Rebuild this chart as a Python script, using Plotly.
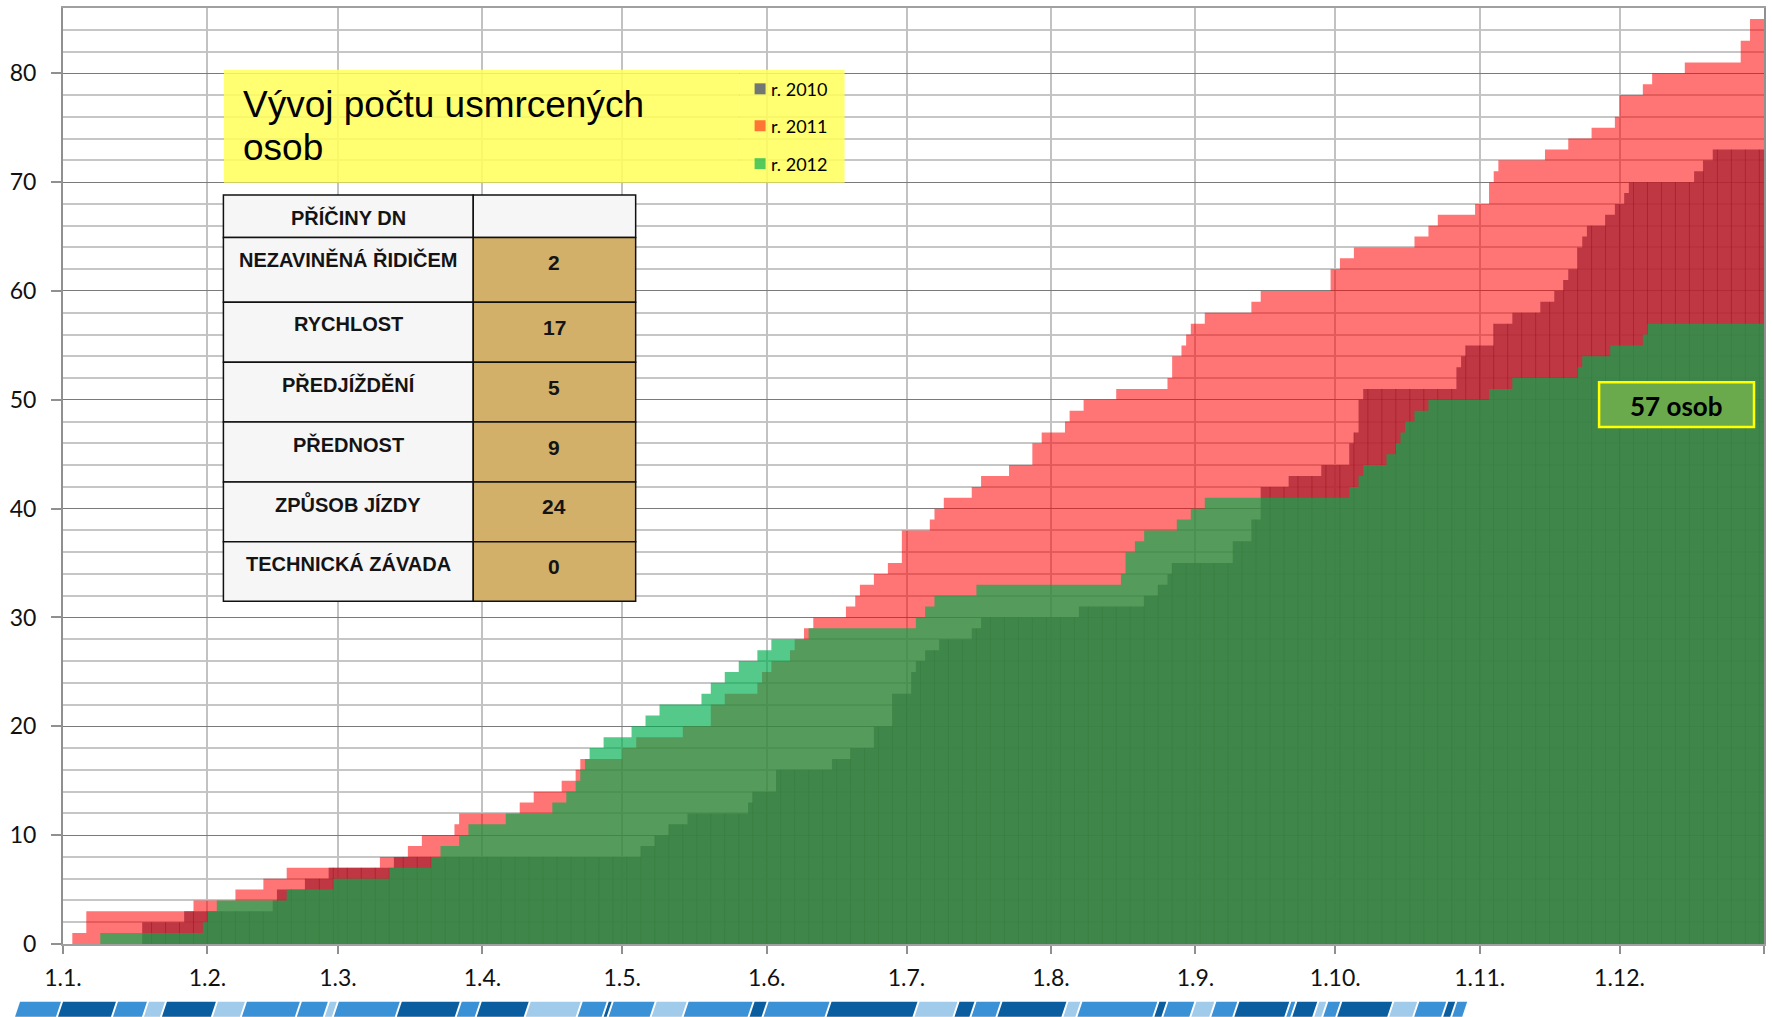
import plotly.graph_objects as go

# ---------------- data ----------------
month_ticks = [0, 31, 59, 90, 120, 151, 181, 212, 243, 273, 304, 334]
month_labels = ["1.1.", "1.2.", "1.3.", "1.4.", "1.5.", "1.6.", "1.7.",
                "1.8.", "1.9.", "1.10.", "1.11.", "1.12."]
year_end = 365

# cumulative number of killed persons: day of year where the value changes, and the new value
days_2010 = [0, 17, 26, 45, 46, 52, 57, 71, 124, 127, 130, 134, 147, 148, 153, 165, 169, 174,
             178, 182, 183, 185, 188, 195, 197, 218, 232, 235, 237, 238, 251, 255, 257, 263,
             270, 276, 277, 278, 279, 299, 300, 301, 307, 311, 317, 320, 322, 323, 325, 326,
             327, 331, 333, 335, 336, 350, 352, 354]
vals_2010 = [0, 2, 3, 4, 5, 6, 7, 8, 9, 10, 11, 12, 13, 14, 16, 17, 18, 20,
             23, 25, 26, 27, 28, 29, 30, 31, 32, 33, 34, 35, 37, 39, 42, 43,
             44, 46, 47, 50, 51, 53, 54, 55, 57, 58, 59, 60, 61, 62, 64, 65,
             66, 67, 68, 69, 70, 71, 72, 73]

days_2011 = [0, 2, 5, 28, 37, 43, 48, 68, 74, 77, 84, 85, 98, 101, 107, 110, 111, 120, 123, 133,
             139, 142, 149, 150, 152, 156, 157, 159, 161, 168, 170, 171, 174, 177, 180, 186, 187,
             189, 195, 197, 203, 208, 210, 215, 216, 219, 226, 237, 238, 240, 241, 242, 245, 255,
             257, 272, 274, 277, 290, 293, 295, 303, 306, 307, 308, 318, 323, 328, 333, 334, 339,
             341, 348, 360, 362]
vals_2011 = [0, 1, 3, 4, 5, 6, 7, 8, 9, 10, 11, 12, 13, 14, 15, 16, 17, 18, 19, 20,
             22, 23, 24, 25, 26, 27, 28, 29, 30, 31, 32, 33, 34, 35, 38, 39, 40,
             41, 42, 43, 44, 46, 47, 48, 49, 50, 51, 52, 54, 55, 56, 57, 58, 59,
             60, 62, 63, 64, 65, 66, 67, 68, 70, 71, 72, 73, 74, 75, 76, 78, 79,
             80, 81, 83, 85]

days_2012 = [0, 8, 30, 31, 33, 48, 58, 70, 79, 81, 85, 87, 95, 105, 108, 110, 111, 112, 113, 116,
             122, 125, 128, 137, 139, 142, 145, 149, 152, 160, 183, 185, 187, 196, 227, 228, 230,
             232, 239, 242, 245, 276, 278, 279, 284, 286, 287, 288, 290, 293, 306, 311, 325, 326,
             332, 339, 340]
vals_2012 = [0, 1, 2, 3, 4, 5, 6, 7, 8, 9, 10, 11, 12, 13, 14, 15, 16, 17, 18, 19,
             20, 21, 22, 23, 24, 25, 26, 27, 28, 29, 30, 31, 32, 33, 34, 36, 37,
             38, 39, 40, 41, 42, 43, 44, 45, 46, 47, 48, 49, 50, 51, 52, 53, 54,
             55, 56, 57]

series_names = ["r. 2010", "r. 2011", "r. 2012"]

table_header = "PŘÍČINY DN"
causes = ["NEZAVINĚNÁ ŘIDIČEM", "RYCHLOST", "PŘEDJÍŽDĚNÍ", "PŘEDNOST", "ZPŮSOB JÍZDY", "TECHNICKÁ ZÁVADA"]
cause_counts = [2, 17, 5, 9, 24, 0]

title_lines = ["Vývoj počtu usmrcených", "osob"]
total_label = f"{vals_2012[-1]} osob"

# ---------------- styling ----------------
C2010 = "rgba(78,86,118,0.80)"
C2011 = "rgba(255,0,0,0.54)"
C2012 = "rgba(0,174,78,0.667)"
TEXTURE = "rgba(0,0,0,0.33)"

W, H = 1772, 1017
ML, MR, MT, MB = 63, 7, 6, 73
PW = W - ML - MR
PH = H - MT - MB
BASE = H - MB


def px(x):
    return (x - ML) / PW


def py(y):
    return (BASE - y) / PH


def stepped(days, vals):
    return days + [year_end], vals + [vals[-1]]


def value_on(days, vals, d):
    v = 0
    for dd, vv in zip(days, vals):
        if dd <= d:
            v = vv
        else:
            break
    return v


fig = go.Figure()

x, y = stepped(days_2010, vals_2010)
fig.add_trace(go.Scatter(x=x, y=y, mode="lines", line=dict(width=0, shape="hv"),
                         fill="tozeroy", fillcolor=C2010, name=series_names[0],
                         hoverinfo="skip", showlegend=False))

# faint column texture inside the 2010 area
tx, ty = [], []
for d in range(1, year_end, 3):
    v = value_on(days_2010, vals_2010, d)
    if v > 0:
        tx += [d, d, None]
        ty += [0, v, None]
fig.add_trace(go.Scatter(x=tx, y=ty, mode="lines", line=dict(width=1, color=TEXTURE),
                         hoverinfo="skip", showlegend=False))

x, y = stepped(days_2011, vals_2011)
fig.add_trace(go.Scatter(x=x, y=y, mode="lines", line=dict(width=0, shape="hv"),
                         fill="tozeroy", fillcolor=C2011, name=series_names[1],
                         hoverinfo="skip", showlegend=False))

x, y = stepped(days_2012, vals_2012)
fig.add_trace(go.Scatter(x=x, y=y, mode="lines", line=dict(width=0, shape="hv"),
                         fill="tozeroy", fillcolor=C2012, name=series_names[2],
                         hoverinfo="skip", showlegend=False))

shapes = []
annotations = []

# title box + legend box
shapes.append(dict(type="rect", xref="paper", yref="paper", x0=px(224), x1=px(740), y0=py(181), y1=py(68),
                   fillcolor="rgba(255,255,90,0.86)", line=dict(width=0), layer="above"))
shapes.append(dict(type="rect", xref="paper", yref="paper", x0=px(740), x1=px(845), y0=py(181), y1=py(68),
                   fillcolor="rgba(255,255,90,0.86)", line=dict(width=0), layer="above"))
annotations.append(dict(xref="paper", yref="paper", x=px(241), y=py(103), xanchor="left", yanchor="middle",
                        text=title_lines[0], showarrow=False,
                        font=dict(family="Liberation Sans, Arial", size=37, color="#000")))
annotations.append(dict(xref="paper", yref="paper", x=px(241), y=py(146), xanchor="left", yanchor="middle",
                        text=title_lines[1], showarrow=False,
                        font=dict(family="Liberation Sans, Arial", size=37, color="#000")))

legend_y = [87, 124, 162]
for name, col, ly in zip(series_names, [C2010, C2011, C2012], legend_y):
    shapes.append(dict(type="rect", xref="paper", yref="paper", x0=px(755), x1=px(766),
                       y0=py(ly + 5.5), y1=py(ly - 5.5), fillcolor=col, line=dict(width=0), layer="above"))
    annotations.append(dict(xref="paper", yref="paper", x=px(769), y=py(ly), xanchor="left", yanchor="middle",
                            text=name, showarrow=False, font=dict(family="Lato", size=18, color="#000")))

# table
tx0, tx1, tx2 = 223.5, 473.5, 636
row_edges = [193.5, 236, 301, 361, 421, 481, 541, 600.5]
LIGHT = "#F6F6F6"
TAN = "#D2B06A"
labels = [table_header] + causes
values = [""] + [str(c) for c in cause_counts]
for i in range(len(labels)):
    r0, r1 = row_edges[i], row_edges[i + 1]
    shapes.append(dict(type="rect", xref="paper", yref="paper", x0=px(tx0), x1=px(tx1), y0=py(r1), y1=py(r0),
                       fillcolor=LIGHT, line=dict(color="#111", width=1.5), layer="above"))
    shapes.append(dict(type="rect", xref="paper", yref="paper", x0=px(tx1), x1=px(tx2), y0=py(r1), y1=py(r0),
                       fillcolor=LIGHT if i == 0 else TAN, line=dict(color="#111", width=1.5), layer="above"))
    annotations.append(dict(xref="paper", yref="paper", x=px((tx0 + tx1) / 2), y=py(r0 + 22),
                            xanchor="center", yanchor="middle", text=f"<b>{labels[i]}</b>", showarrow=False,
                            font=dict(family="Liberation Sans, Arial", size=20, color="#141414")))
    if values[i]:
        annotations.append(dict(xref="paper", yref="paper", x=px((tx1 + tx2) / 2), y=py(r0 + 25),
                                xanchor="center", yanchor="middle", text=f"<b>{values[i]}</b>", showarrow=False,
                                font=dict(family="Liberation Sans, Arial", size=21, color="#141414")))

# total label
shapes.append(dict(type="rect", xref="paper", yref="paper", x0=px(1600), x1=px(1755), y0=py(426), y1=py(381),
                   fillcolor="#6AAA4C", line=dict(color="#FFFF00", width=2.5), layer="above"))
annotations.append(dict(xref="paper", yref="paper", x=px(1677.5), y=py(405), xanchor="center", yanchor="middle",
                        text=f"<b>{total_label}</b>", showarrow=False,
                        font=dict(family="Lato", size=26, color="#000")))

# decorative stripe at the bottom
stripe_cols = {"d": "#0A5E9F", "m": "#3B91D5", "l": "#A0CBEB"}
stripe = [(14, 57, "m"), (57, 112, "d"), (112, 143, "m"), (143, 161, "l"), (161, 212, "d"), (212, 241, "l"),
          (241, 296, "m"), (296, 324, "m"), (324, 333, "l"), (333, 396, "m"), (396, 456, "d"), (456, 476, "m"),
          (476, 525, "d"), (525, 577, "l"), (577, 603, "m"), (603, 608, "d"), (608, 651, "m"), (651, 683, "l"),
          (683, 749, "m"), (749, 763, "d"), (763, 826, "m"), (826, 914, "d"), (914, 954, "l"), (954, 971, "d"),
          (971, 997, "m"), (997, 1063, "d"), (1063, 1077, "l"), (1077, 1154, "m"), (1154, 1163, "d"),
          (1163, 1191, "m"), (1191, 1211, "l"), (1211, 1234, "m"), (1234, 1286, "d"), (1286, 1292, "m"),
          (1292, 1314, "d"), (1314, 1323, "l"), (1323, 1337, "m"), (1337, 1389, "d"), (1389, 1414, "l"),
          (1414, 1443, "m"), (1443, 1452, "d"), (1452, 1464, "m")]
for a, b, c in stripe:
    s = 5
    path = (f"M {px(a + s + 1):.5f},{py(1002):.5f} L {px(b + s - 1):.5f},{py(1002):.5f} "
            f"L {px(b - 1):.5f},{py(1017):.5f} L {px(a + 1):.5f},{py(1017):.5f} Z")
    shapes.append(dict(type="path", xref="paper", yref="paper", path=path,
                       fillcolor=stripe_cols[c], line=dict(width=0), layer="above"))

fig.update_layout(
    width=W, height=H,
    margin=dict(l=ML, r=MR, t=MT, b=MB, pad=0),
    paper_bgcolor="white", plot_bgcolor="white",
    showlegend=False,
    shapes=shapes, annotations=annotations,
    font=dict(family="Lato", color="#111"),
)
fig.update_xaxes(
    range=[0, year_end], tickmode="array", tickvals=month_ticks + [year_end], ticktext=month_labels + [""],
    showgrid=True, gridcolor="#C2C2C2", gridwidth=2, zeroline=False,
    showline=True, linecolor="#A0A0A0", linewidth=1.5, mirror=True,
    ticks="outside", ticklen=8, tickcolor="#909090", tickwidth=1.5,
    tickfont=dict(family="Lato", size=23, color="#111"), ticklabelstandoff=5,
)
fig.update_yaxes(
    range=[0, 86], tick0=0, dtick=10,
    showgrid=True, gridcolor="#7A7A7A", gridwidth=1.3, zeroline=False,
    minor=dict(tick0=0, dtick=2, showgrid=True, gridcolor="#C6C6C6", gridwidth=1.6),
    showline=True, linecolor="#909090", linewidth=2, mirror=True,
    ticks="outside", ticklen=10, tickcolor="#909090", tickwidth=1.5,
    tickfont=dict(family="Lato", size=23, color="#111"), ticklabelstandoff=10,
)

fig.write_html("out.html", config={"displayModeBar": False},
               post_script="document.body.style.margin='0';document.body.style.overflow='hidden';")
